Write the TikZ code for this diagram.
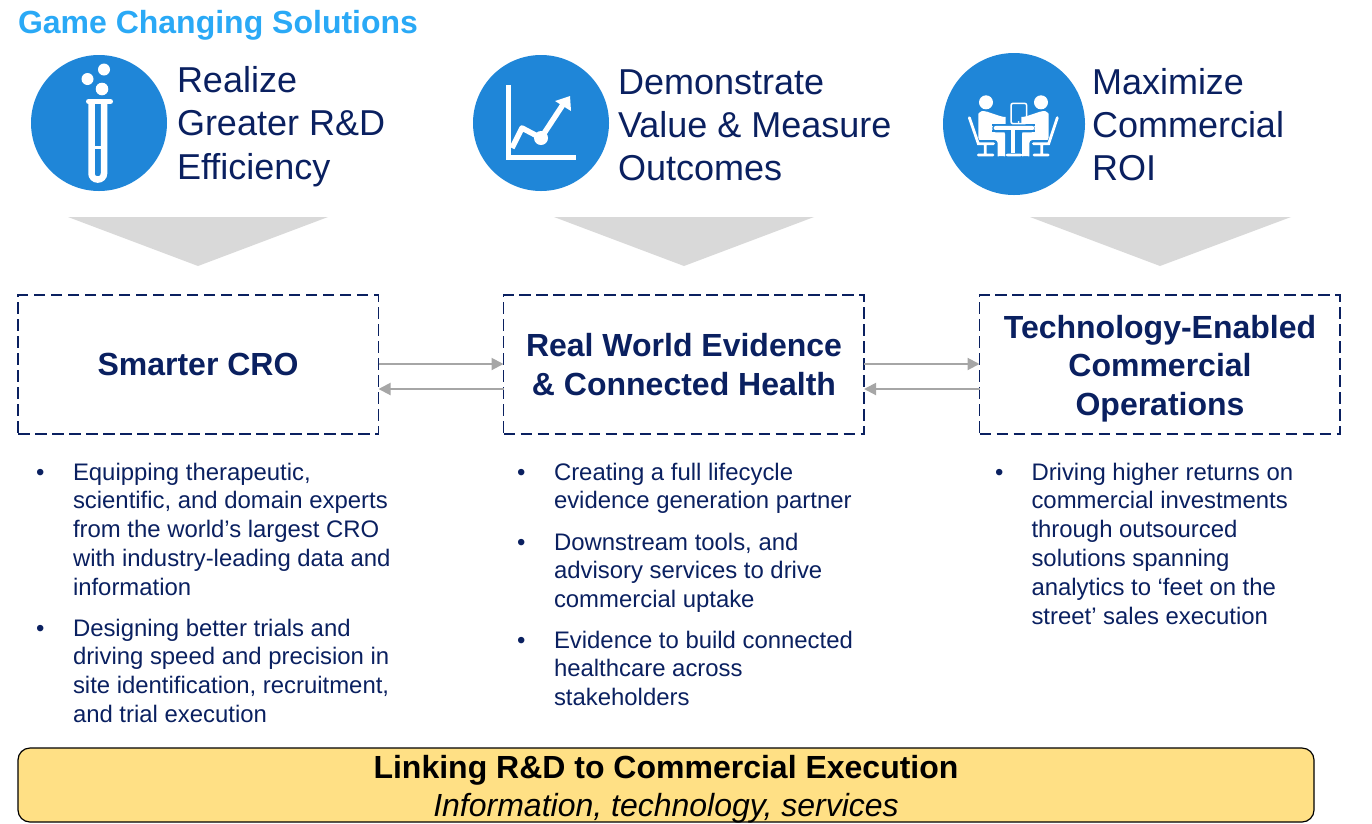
\documentclass[tikz,border=0pt]{standalone}
\usepackage{fontspec}
\setmainfont{Liberation Sans}
\usetikzlibrary{calc,arrows.meta}
\definecolor{navy}{HTML}{0A2060}
\definecolor{sky}{HTML}{2AA9F6}
\definecolor{discblue}{HTML}{1F86D8}
\definecolor{wedge}{HTML}{D9D9D9}
\definecolor{arrowgray}{HTML}{A6A6A6}
\definecolor{band}{HTML}{FFE085}
\newcommand\tl[1]{\begin{tabular}[t]{@{}l@{}}#1\end{tabular}}
\newcommand\tc[1]{\begin{tabular}[t]{@{}c@{}}#1\end{tabular}}
\tikzset{
  every node/.style={inner sep=0pt,outer sep=0pt},
  disc/.style={circle,fill=discblue,minimum size=136pt},
  head/.style={anchor=base west,text=navy,font=\fontsize{36pt}{43.2pt}\selectfont},
  solution/.style={draw=navy,line width=1.4pt,dash pattern=on 11.5pt off 5.5pt,minimum width=360.5pt,minimum height=139pt,anchor=north west},
  boxtitle/.style={anchor=base,text=navy,font=\fontsize{32pt}{38.5pt}\selectfont\bfseries},
  body/.style={anchor=base west,text=navy,font=\fontsize{23.9pt}{28.97pt}\selectfont},
  bullet/.style={anchor=base west,text=navy,font=\fontsize{23.9pt}{28.97pt}\selectfont},
  link/.style={draw=arrowgray,line width=2pt,-{Triangle[length=12pt,width=12pt]}},
  ico/.style={draw=white,line width=5pt},
}
\begin{document}
\begin{tikzpicture}[x=1pt,y=-1pt]
\useasboundingbox (0,0) rectangle (1372,823);
\node[anchor=base west,text=sky,font=\fontsize{32pt}{36pt}\selectfont\bfseries] (title) at (18,33) {Game Changing Solutions};

% discs
\node[disc] (d1) at (99,123) {};
\node[disc] (d2) at (541,123) {};
\node[disc,minimum size=142pt] (d3) at (1014,124) {};

% test tube icon
\draw[ico,line cap=round] (88.5,101.5) -- (110.5,101.5);
\draw[ico,line width=6.5pt,rounded corners=6pt] (91.5,101) -- (91.5,179.5) -- (104,179.5) -- (104,101);
\draw[ico,line width=3pt] (91.5,147.5) -- (104,147.5);
\fill[white] (87.5,79) circle (6pt) (104,69.5) circle (6pt) (102,89) circle (6.3pt);

% chart icon
\draw[ico,line width=5pt,line cap=butt] (508,85) -- (508,157) -- (576,157);
\draw[ico,line width=5.5pt,line join=round] (512,148) -- (522,128) -- (541,138) -- (564,103);
\fill[white] (541,138) circle (7pt);
\fill[white] (570,96) -- (571,111) -- (555,101) -- cycle;

% meeting icon
\begin{scope}[shift={(935,45)},x=0.3333pt,y=-0.3333pt]
  \fill[white] (153,172) circle (21) (318,172) circle (21);
  \fill[white,rounded corners=3pt] (130,215) to[out=90,in=180] (150,198) -- (165,203) -- (203,216) to[out=0,in=0] (203,238) -- (172,238) -- (172,262) -- (200,262) to[out=0,in=90] (210,275) -- (210,325) to[out=-90,in=-90] (188,325) -- (188,285) -- (142,285) to[out=180,in=-90] (130,270) -- cycle;
  \fill[white,rounded corners=3pt] (341,215) to[out=90,in=0] (321,198) -- (306,203) -- (268,216) to[out=180,in=180] (268,238) -- (299,238) -- (299,262) -- (271,262) to[out=180,in=90] (261,275) -- (261,325) to[out=-90,in=-90] (283,325) -- (283,285) -- (329,285) to[out=0,in=-90] (341,270) -- cycle;
  \draw[white,line width=2.8pt,line cap=round] (103,218) -- (130,296) -- (176,296) (151,296) -- (151,328) (130,330) -- (174,330);
  \draw[white,line width=2.8pt,line cap=round] (367,218) -- (341,296) -- (295,296) (320,296) -- (320,328) (297,330) -- (340,330);
  \draw[discblue,line width=1.4pt] (172,240) -- (300,240) (172,258) -- (300,258);
  \fill[white,rounded corners=2pt] (176,243) rectangle (298,255);
  \fill[white] (229,255) rectangle (241,325);
  \fill[white,rounded corners=2pt] (212,326) rectangle (262,334);
  \draw[white,line width=1.5pt,rounded corners=2pt] (228,175) rectangle (275,236);
  \fill[white] (251,231) circle (3);
\end{scope}

% heading texts
\node[head] (h1) at (177,92.6) {\tl{Realize\\Greater R\&D\\Efficiency}};
\node[head] (h2) at (618,94) {\tl{Demonstrate\\Value \& Measure\\Outcomes}};
\node[head] (h3) at (1092,94) {\tl{Maximize\\Commercial\\ROI}};

% wedges
\fill[wedge] (68,217) -- (328,217) -- (198,266) -- cycle;
\fill[wedge] (554,217) -- (814,217) -- (684,266) -- cycle;
\fill[wedge] (1030,217) -- (1291,217) -- (1160,266) -- cycle;

% boxes
\node[solution] (b1) at (18,295) {};
\node[solution] (b2) at (503.5,295) {};
\node[solution] (b3) at (979.5,295) {};
\node[boxtitle] (t1) at (198,375) {Smarter CRO};
\node[boxtitle] (t2) at (684,356.5) {\tc{Real World Evidence\\\& Connected Health}};
\node[boxtitle] (t3) at (1160,338) {\tc{Technology-Enabled\\Commercial\\Operations}};

% connectors
\draw[link] ($(b1.east)+(0,-0.5)$) -- ($(b2.west)+(0,-0.5)$);
\draw[link] ($(b2.west)+(0,24.5)$) -- ($(b1.east)+(0,24.5)$);
\draw[link] ($(b2.east)+(0,-0.5)$) -- ($(b3.west)+(0,-0.5)$);
\draw[link] ($(b3.west)+(0,24.5)$) -- ($(b2.east)+(0,24.5)$);

% bullets column 1
\node[bullet] (p1) at (36,480) {•};
\node[body] (l1) at (73,480) {\tl{Equipping therapeutic,\\scientific, and domain experts\\from the world’s largest CRO\\with industry-leading data and\\information}};
\node[bullet] (p2) at (36,636) {•};
\node[body] (l2) at (73,636) {\tl{Designing better trials and\\driving speed and precision in\\site identification, recruitment,\\and trial execution}};
% bullets column 2
\node[bullet] (p3) at (517,480) {•};
\node[body] (m1) at (554,480) {\tl{Creating a full lifecycle\\evidence generation partner}};
\node[bullet] (p4) at (517,550) {•};
\node[body] (m2) at (554,550) {\tl{Downstream tools, and\\advisory services to drive\\commercial uptake}};
\node[bullet] (p5) at (517,648) {•};
\node[body] (m3) at (554,648) {\tl{Evidence to build connected\\healthcare across\\stakeholders}};
% bullets column 3
\node[bullet] (p6) at (995,480) {•};
\node[body] (r1) at (1031.5,480) {\tl{Driving higher returns on\\commercial investments\\through outsourced\\solutions spanning\\analytics to ‘feet on the\\street’ sales execution}};

% banner
\draw[draw=black,line width=1.2pt,fill=band,rounded corners=12pt] (18,748) rectangle (1314,822);
\node[anchor=base,text=black,font=\fontsize{32pt}{38pt}\selectfont\bfseries] (b4) at (666,778) {Linking R\&D to Commercial Execution};
\node[anchor=base,text=black,font=\fontsize{32pt}{38pt}\selectfont\itshape] (b5) at (666,816) {Information, technology, services};
\end{tikzpicture}
\end{document}
